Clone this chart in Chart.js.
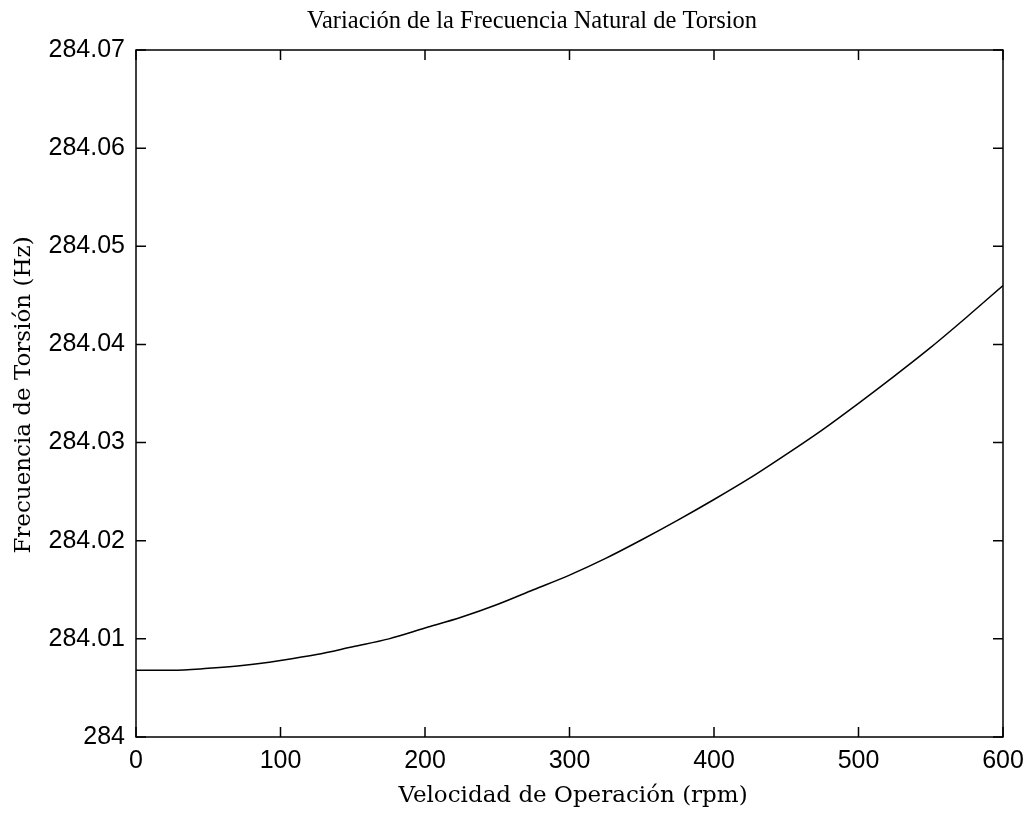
<!DOCTYPE html>
<html>
<head>
<meta charset="utf-8">
<script src="https://cdn.jsdelivr.net/npm/chart.js@4/dist/chart.umd.min.js"></script>
<style>
html,body{margin:0;padding:0;background:#fff;}
#c{display:block;}
</style>
</head>
<body>
<canvas id="c" width="1029" height="816" style="width:1029px;height:816px"></canvas>
<script>
const chartTitle = 'Variación de la Frecuencia Natural de Torsion';
const xTitle = 'Velocidad de Operación (rpm)';
const yTitle = 'Frecuencia de Torsión (Hz)';
const rpm = [0,25,50,75,100,125,150,175,200,225,250,275,300,325,350,375,400,425,450,475,500,525,550,575,600];
const freq = [284.0068,284.0068,284.0070,284.0073,284.0078,284.0084,284.0092,284.0100,284.0111,284.0122,284.0135,284.0150,284.0165,284.0182,284.0201,284.0221,284.0242,284.0264,284.0288,284.0313,284.0340,284.0368,284.0397,284.0428,284.0460];
const xTicks = [0,100,200,300,400,500,600];
const yTicks = [284,284.01,284.02,284.03,284.04,284.05,284.06,284.07];

const tickFont = {family:'"Liberation Sans", Arial, sans-serif', size:25};
const serif = '"Liberation Serif", "Times New Roman", serif';
const slab = '"DejaVu Serif", serif';

const framePlugin = {
  id:'frame',
  afterDraw(chart){
    const {ctx, chartArea:a, scales:{x, y}} = chart;
    ctx.save();
    ctx.strokeStyle = '#000';
    ctx.lineWidth = 1.5;
    ctx.strokeRect(a.left, a.top, a.right - a.left, a.bottom - a.top);
    const L = 10;
    ctx.beginPath();
    xTicks.forEach(v => {
      const px = x.getPixelForValue(v);
      ctx.moveTo(px, a.bottom); ctx.lineTo(px, a.bottom - L);
      ctx.moveTo(px, a.top); ctx.lineTo(px, a.top + L);
    });
    yTicks.forEach(v => {
      const py = y.getPixelForValue(v);
      ctx.moveTo(a.left, py); ctx.lineTo(a.left + L, py);
      ctx.moveTo(a.right, py); ctx.lineTo(a.right - L, py);
    });
    ctx.stroke();
    ctx.fillStyle = '#000';
    ctx.textAlign = 'center';
    ctx.textBaseline = 'middle';
    ctx.font = '24.5px ' + serif;
    ctx.fillText(chartTitle, 532, 22);
    ctx.font = '23px ' + slab;
    ctx.fillText(xTitle, 573, 796);
    ctx.translate(24, 395);
    ctx.rotate(-Math.PI / 2);
    ctx.fillText(yTitle, 0, 0);
    ctx.restore();
  }
};

new Chart(document.getElementById('c'), {
  type:'line',
  data:{
    datasets:[{
      data: rpm.map((r,i)=>({x:r, y:freq[i]})),
      borderColor:'#000',
      borderWidth:1.5,
      pointRadius:0,
      cubicInterpolationMode:'monotone',
      fill:false
    }]
  },
  options:{
    responsive:false,
    animation:false,
    layout:{padding:{top:50, right:26, left:0, bottom:0}},
    plugins:{legend:{display:false}, title:{display:false}, tooltip:{enabled:false}},
    scales:{
      x:{
        type:'linear', min:0, max:600,
        afterBuildTicks(s){ s.ticks = xTicks.map(v=>({value:v})); },
        afterFit(s){ s.height = 79; s.paddingLeft = 0; s.paddingRight = 0; },
        ticks:{color:'#000', font:tickFont, padding:9, maxRotation:0, callback:v=>String(v)},
        grid:{display:false, drawTicks:false},
        border:{display:false}
      },
      y:{
        type:'linear', min:284, max:284.07,
        afterBuildTicks(s){ s.ticks = yTicks.map(v=>({value:v})); },
        afterFit(s){ s.width = 136; s.paddingTop = 0; s.paddingBottom = 0; },
        ticks:{color:'#000', font:tickFont, padding:11, callback:v=>String(Math.round(v*100)/100)},
        grid:{display:false, drawTicks:false},
        border:{display:false}
      }
    }
  },
  plugins:[framePlugin]
});
</script>
</body>
</html>
